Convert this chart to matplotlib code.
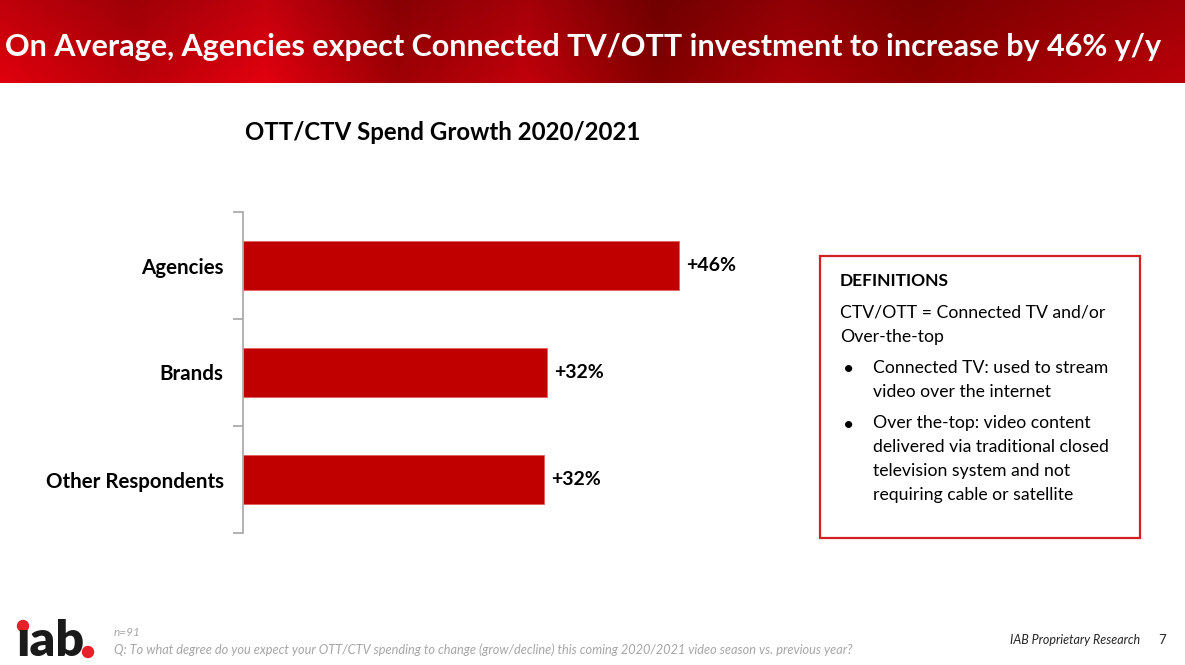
import matplotlib
matplotlib.use("Agg")
import matplotlib.pyplot as plt
import numpy as np
from matplotlib.colors import LinearSegmentedColormap
from matplotlib.patches import Rectangle, Circle

W, H = 1185, 665

# data
categories = ["Agencies", "Brands", "Other Respondents"]
growth = [46, 32.1, 31.7]
value_labels = ["+46%", "+32%", "+32%"]

headline = "On Average, Agencies expect Connected TV/OTT investment to increase by 46% y/y"
chart_title = "OTT/CTV Spend Growth 2020/2021"
def_lines = ["CTV/OTT = Connected TV and/or", "Over-the-top"]
bullets = [["Connected TV: used to stream", "video over the internet"],
           ["Over the-top: video content", "delivered via traditional closed",
            "television system and not", "requiring cable or satellite"]]
note_n = "n=91"
note_q = ("Q: To what degree do you expect your OTT/CTV spending to change (grow/decline) "
          "this coming 2020/2021 video season vs. previous year?")

plt.rcParams['font.family'] = ['Lato', 'DejaVu Sans']

BAR_RED = "#c00000"

fig = plt.figure(figsize=(W / 100, H / 100), dpi=100)
fig.patch.set_facecolor("white")


def px(x, y):
    # pixel coords (top-left origin) -> figure fraction
    return x / W, 1 - y / H


# header banner
hax = fig.add_axes([0, 1 - 83 / H, 1, 83 / H])
hax.axis("off")
cmap = LinearSegmentedColormap.from_list(
    "hdr", ["#d4000c", "#b00008", "#d8000e", "#960004", "#b8000a",
            "#7c0000", "#a00006", "#860000", "#9c0004", "#b00008"])
grad = np.tile(np.linspace(0, 1, 400), (40, 1))
shade = np.linspace(0.9, 1.05, 40)[:, None, None]
rgb = cmap(grad)[:, :, :3] * shade
hax.imshow(np.clip(rgb, 0, 1), aspect="auto", extent=[0, 1, 0, 1])
hax.set_xlim(0, 1)
hax.set_ylim(0, 1)

t = fig.text(5 / W, 1 - 47 / H, headline, color="white", fontsize=24,
             fontweight="bold", va="center", ha="left")
fig.canvas.draw()
bb = t.get_window_extent()
t.set_fontsize(24 * 1155 / bb.width)

# chart title
fig.text(*px(443, 132), chart_title, fontsize=17.3, fontweight="bold",
         ha="center", va="center", color="black")

# bar chart
ax = fig.add_axes([243 / W, 1 - 533 / H, 500 / W, 321 / H])
ypos = np.arange(len(categories))
ax.barh(ypos, growth, height=0.45, color=BAR_RED, edgecolor="#e06060", linewidth=0.6)
ax.set_xlim(0, 500 / 9.48)
ax.set_ylim(len(categories) - 0.5, -0.5)
for s in ["top", "right", "bottom"]:
    ax.spines[s].set_visible(False)
ax.spines["left"].set_color("#a6a6a6")
ax.spines["left"].set_linewidth(1.2)
ax.set_xticks([])
ax.set_yticks(ypos)
ax.set_yticklabels(categories, fontsize=14.8, fontweight="bold")
ax.tick_params(axis="y", which="major", length=0, pad=14)
ax.set_yticks(np.arange(-0.5, len(categories)), minor=True)
ax.tick_params(axis="y", which="minor", length=7, color="#a6a6a6", width=1.2)
for y, v, lab in zip(ypos, growth, value_labels):
    ax.text(v + 0.75, y, lab, fontsize=14, fontweight="bold", va="center", ha="left")

# definitions box
bx0, by0 = px(820, 538)
bx1, by1 = px(1140, 256)
fig.patches.append(Rectangle((bx0, by0), bx1 - bx0, by1 - by0, transform=fig.transFigure,
                             fill=False, edgecolor="#d42020", linewidth=1.6))
fig.text(*px(840, 281), "DEFINITIONS", fontsize=12.5, fontweight="bold", va="center")
yy = 313
for line in def_lines:
    fig.text(*px(840, yy), line, fontsize=12.7, va="center")
    yy += 24
yy += 7
for group in bullets:
    fig.text(*px(843, yy + 2), "\u2022", fontsize=14, va="center")
    for line in group:
        fig.text(*px(873, yy), line, fontsize=12.7, va="center")
        yy += 24
    yy += 7

# footer
fig.text(*px(16, 642), "\u0131ab", fontsize=36, fontweight="heavy", va="center",
         ha="left", color="#1a1a1a")
lax = fig.add_axes([0, 0, 1, 1], zorder=-1)
lax.set_xlim(0, W)
lax.set_ylim(H, 0)
lax.axis("off")
lax.add_patch(Circle((23, 626), 5.5, color="#e8202a"))
lax.add_patch(Circle((88, 652), 5.5, color="#e8202a"))

fig.text(*px(114, 633), note_n, fontsize=8.5, style="italic", color="#a6a6a6", va="center")
fig.text(*px(114, 650), note_q, fontsize=9.2, style="italic", color="#a6a6a6", va="center")
fig.text(*px(1140, 640), "IAB Proprietary Research", fontsize=9, style="italic",
         color="#262626", va="center", ha="right")
fig.text(*px(1162, 640), "7", fontsize=9.5, color="#262626", va="center", ha="center")

fig.savefig("out.png", dpi=100)
